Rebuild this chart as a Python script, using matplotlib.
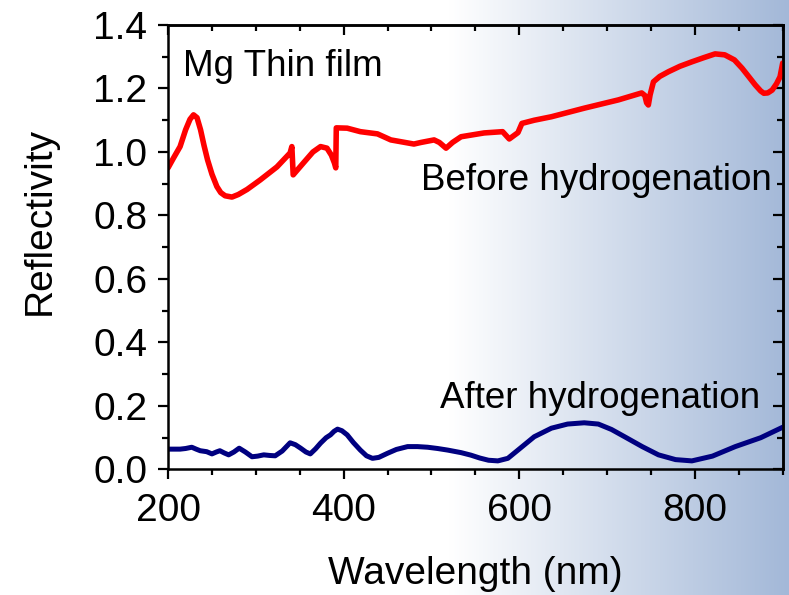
import numpy as np
import matplotlib
matplotlib.use("Agg")
import matplotlib.pyplot as plt
from matplotlib.ticker import MultipleLocator

plt.rcParams['font.family'] = ['Liberation Sans', 'DejaVu Sans']

# Before hydrogenation
wl_before = [200, 206, 213.7, 220, 225, 229, 233, 237, 241, 245, 250, 255.6, 260, 265,
             272.8, 280, 290, 305, 324, 339, 341, 342.5, 354, 365, 373.7, 381, 386,
             389.5, 391, 391.6, 404, 419, 438.5, 453.7, 480, 488, 503, 509, 516.6, 524,
             533.7, 560, 581, 588.6, 598.5, 603, 617, 636.6, 674, 712.8, 739.4, 743, 745,
             747, 749, 752.8, 760, 770, 783, 796.6, 810, 823, 834, 845, 853.7, 862,
             868.8, 875, 878.5, 883, 888, 893, 897, 900]
r_before = [0.95, 0.98, 1.017, 1.07, 1.103, 1.117, 1.108, 1.07, 1.02, 0.975, 0.93, 0.891,
            0.872, 0.862, 0.858, 0.866, 0.882, 0.912, 0.953, 0.997, 1.017, 0.928, 0.965,
            1.0, 1.017, 1.012, 0.99, 0.965, 0.95, 1.076, 1.075, 1.064, 1.057, 1.038,
            1.025, 1.03, 1.038, 1.03, 1.012, 1.03, 1.048, 1.06, 1.064, 1.041, 1.061, 1.09,
            1.10, 1.111, 1.138, 1.164, 1.186, 1.178, 1.155, 1.148, 1.18, 1.221, 1.238,
            1.253, 1.27, 1.284, 1.297, 1.309, 1.306, 1.29, 1.264, 1.235, 1.211, 1.192,
            1.185, 1.186, 1.195, 1.215, 1.237, 1.28]

# After hydrogenation
wl_after = [200, 213.7, 220, 227, 232, 236.6, 244, 250, 255, 259, 264, 269, 275, 281,
            288, 295.6, 302, 309, 316, 322, 330, 339, 345, 351, 357, 362, 368, 373.7,
            380, 385, 389, 393, 398, 404, 411, 419, 426, 432.8, 440, 450, 460, 472.8,
            484, 495.6, 507, 518.5, 533.7, 545, 555, 565, 575.6, 587, 598.5, 617, 636.6,
            655, 674, 690, 705, 720, 740, 758.5, 778, 796.6, 820, 846, 875, 900]
r_after = [0.064, 0.064, 0.066, 0.07, 0.064, 0.059, 0.056, 0.049, 0.055, 0.059, 0.052,
           0.046, 0.055, 0.067, 0.055, 0.04, 0.042, 0.046, 0.044, 0.043, 0.058, 0.084,
           0.078, 0.067, 0.055, 0.049, 0.065, 0.083, 0.1, 0.109, 0.12, 0.127, 0.122,
           0.109, 0.085, 0.061, 0.043, 0.035, 0.038, 0.051, 0.063, 0.072, 0.072, 0.07,
           0.066, 0.061, 0.053, 0.045, 0.036, 0.029, 0.027, 0.035, 0.061, 0.103, 0.13,
           0.143, 0.147, 0.143, 0.126, 0.103, 0.072, 0.046, 0.031, 0.027, 0.042, 0.072,
           0.1, 0.133]

fig = plt.figure(figsize=(7.89, 5.95), dpi=100)

# background gradient (white on the left, pale blue on the right)
bg = fig.add_axes([0, 0, 1, 1], zorder=-1)
xs = np.linspace(0, 1, 789)
t = np.clip((xs - 450 / 789) / (1 - 450 / 789), 0, 1)
white = np.array([1.0, 1.0, 1.0])
blue = np.array([163, 184, 216]) / 255
grad = white[None, :] * (1 - t[:, None]) + blue[None, :] * t[:, None]
bg.imshow(grad[None, :, :], aspect='auto', extent=[0, 1, 0, 1])
bg.axis('off')

ax = fig.add_axes([0.213, 0.211, 0.779, 0.747])
ax.patch.set_alpha(0)
ax.plot(wl_before, r_before, color='#ff0000', lw=4.0, solid_joinstyle='round',
        solid_capstyle='round')
ax.plot(wl_after, r_after, color='#000080', lw=3.6, solid_joinstyle='round',
        solid_capstyle='round')

ax.set_xlim(200, 900)
ax.set_ylim(0, 1.4)
ax.xaxis.set_major_locator(MultipleLocator(200))
ax.xaxis.set_minor_locator(MultipleLocator(50))
ax.yaxis.set_major_locator(MultipleLocator(0.2))
ax.yaxis.set_minor_locator(MultipleLocator(0.1))
ax.yaxis.set_major_formatter(matplotlib.ticker.FormatStrFormatter('%.1f'))
ax.tick_params(which='major', direction='out', length=7, width=1.6, labelsize=28)
ax.tick_params(axis='x', which='major', pad=10)
ax.tick_params(axis='y', which='major', pad=8)
ax.tick_params(which='minor', direction='out', length=4, width=1.6)
for s in ax.spines.values():
    s.set_linewidth(1.8)

top = ax.secondary_xaxis('top')
top.xaxis.set_major_locator(MultipleLocator(200))
top.xaxis.set_minor_locator(MultipleLocator(50))
top.tick_params(which='major', direction='in', length=7, width=1.6, labelsize=0)
top.tick_params(which='minor', direction='in', length=4, width=1.6)
top.set_xticklabels([])
top.spines['top'].set_linewidth(1.8)

right = ax.secondary_yaxis('right')
right.yaxis.set_major_locator(MultipleLocator(0.2))
right.yaxis.set_minor_locator(MultipleLocator(0.1))
right.tick_params(which='major', direction='in', length=7, width=1.6, labelsize=0)
right.tick_params(which='minor', direction='in', length=4, width=1.6)
right.set_yticklabels([])
right.spines['right'].set_linewidth(1.8)

ax.set_xlabel('Wavelength (nm)', fontsize=28, va='center')
ax.xaxis.set_label_coords(0.5, -0.235)
ax.set_ylabel('Reflectivity', fontsize=28, va='center', ha='center')
ax.yaxis.set_label_coords(-0.208, 0.559)

ax.text(217, 1.239, 'Mg Thin film', fontsize=26.5, va='baseline', ha='left')
ax.text(888, 0.88, 'Before hydrogenation', fontsize=26.5, va='baseline', ha='right')
ax.text(874, 0.194, 'After hydrogenation', fontsize=26.5, va='baseline', ha='right')

fig.savefig('out.png', dpi=100)
